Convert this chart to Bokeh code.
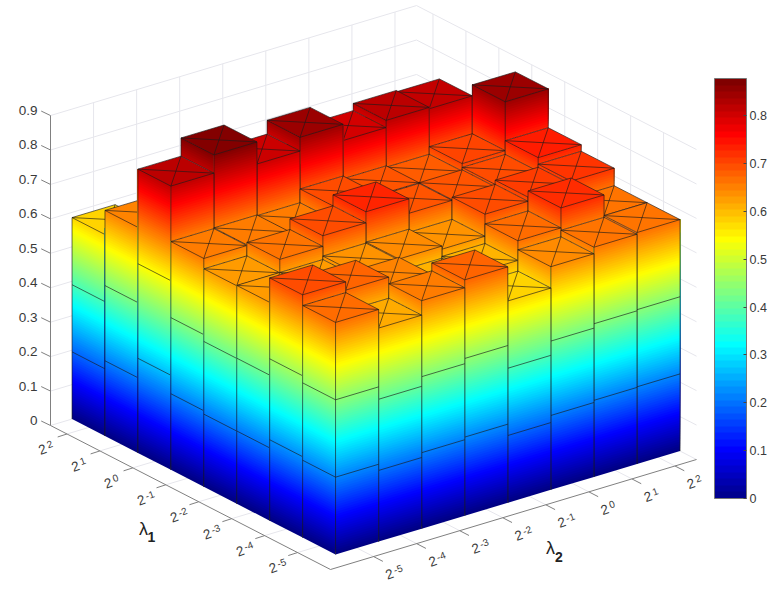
from bokeh.plotting import figure
from bokeh.models import Range1d, ColorBar, LinearColorMapper, FixedTicker
from bokeh.core.properties import value
from bokeh.embed import file_html
from bokeh.resources import INLINE

# ---- data -------------------------------------------------------------
tick_base = ["2"] * 8
lambda1_exponents = ["-5", "-4", "-3", "-2", "-1", "0", "1", "2"]
lambda2_exponents = ["-5", "-4", "-3", "-2", "-1", "0", "1", "2"]
z_ticks = [0, 0.1, 0.2, 0.3, 0.4, 0.5, 0.6, 0.7, 0.8, 0.9]
z_tick_labels = ["0", "0.1", "0.2", "0.3", "0.4", "0.5", "0.6", "0.7", "0.8", "0.9"]
cbar_ticks = [0, 0.1, 0.2, 0.3, 0.4, 0.5, 0.6, 0.7, 0.8]
# one row per lambda1 value, columns are lambda2 values
row_1 = [0.674, 0.620, 0.662, 0.685, 0.586, 0.648, 0.667, 0.672]
row_2 = [0.705, 0.681, 0.652, 0.612, 0.617, 0.674, 0.732, 0.672]
row_3 = [0.634, 0.634, 0.644, 0.647, 0.638, 0.702, 0.714, 0.723]
row_4 = [0.633, 0.672, 0.703, 0.735, 0.693, 0.695, 0.702, 0.742]
row_5 = [0.663, 0.665, 0.663, 0.703, 0.695, 0.691, 0.713, 0.855]
row_6 = [0.824, 0.877, 0.813, 0.853, 0.806, 0.827, 0.823, 0.700]
row_7 = [0.655, 0.610, 0.620, 0.640, 0.630, 0.650, 0.660, 0.680]
row_8 = [0.585, 0.560, 0.580, 0.600, 0.600, 0.610, 0.620, 0.620]
heights = [row_1, row_2, row_3, row_4, row_5, row_6, row_7, row_8]
z_max = 0.878

# ---- projection (3-D view onto the page) -------------------------------
O = (330.0, 569.0)
UX, UY = 43.06, -12.94
VX, VY = -32.94, -16.94
ZY = -344.4
LIM = 8.5
ZTOP = 0.9
W, H = 775, 584


def proj(u, v, z=0.0):
    return O[0] + UX * u + VX * v, O[1] + UY * u + VY * v + ZY * z


def clip(a):
    return max(0.0, min(1.0, a))


def jet(t):
    r = clip(1.5 - abs(4 * t - 3))
    g = clip(1.5 - abs(4 * t - 2))
    b = clip(1.5 - abs(4 * t - 1))
    return "#%02x%02x%02x" % (round(r * 255), round(g * 255), round(b * 255))


N = 64
palette = [jet((k + 1) / N) for k in range(N)]
FINE = 128
fine_palette = [jet((k + 0.5) / FINE) for k in range(FINE)]
FONT = "Liberation Sans"
TXT = "#3a3a3a"

p = figure(width=W, height=H, output_backend="svg", toolbar_location=None,
           x_range=Range1d(0, W), y_range=Range1d(H, 0), min_border=0,
           background_fill_color="white", border_fill_color="white")
p.axis.visible = False
p.grid.visible = False
p.outline_line_color = None

# ---- back walls and floor grid ----------------------------------------
gx, gy = [], []
def seg(a, b):
    gx.append([a[0], b[0]])
    gy.append([a[1], b[1]])

for z in z_ticks:
    seg(proj(0, LIM, z), proj(LIM, LIM, z))
    seg(proj(LIM, 0, z), proj(LIM, LIM, z))
for t in range(1, 9):
    seg(proj(t, LIM, 0), proj(t, LIM, ZTOP))
    seg(proj(LIM, t, 0), proj(LIM, t, ZTOP))
    seg(proj(t, 0, 0), proj(t, LIM, 0))
    seg(proj(0, t, 0), proj(LIM, t, 0))
p.multi_line(gx, gy, line_color="#e6e6ec", line_width=1)

# ---- axis lines, ticks and labels -------------------------------------
ax, ay = [], []
def aseg(a, b):
    ax.append([a[0], b[0]])
    ay.append([a[1], b[1]])

aseg(proj(0, LIM, 0), proj(0, LIM, ZTOP))
aseg(proj(0, LIM, 0), proj(0, 0, 0))
aseg(proj(0, 0, 0), proj(LIM, 0, 0))
ztx, zty, zts = [], [], []
for z, s in zip(z_ticks, z_tick_labels):
    a = proj(0, LIM, z)
    aseg(a, (a[0] - 9.3, a[1] - 4.5))
    ztx.append(a[0] - 13)
    zty.append(a[1] - 5)
    zts.append(s)
l1x, l1y, e1x, e1y = [], [], [], []
l2x, l2y, e2x, e2y = [], [], [], []
for t in range(1, 9):
    a = proj(0, t, 0)
    aseg(a, (a[0] - 9.3, a[1] + 3))
    l1x.append(a[0] - 24.5)
    l1y.append(a[1] + 15.5)
    dx = 8.3 if lambda1_exponents[t - 1].startswith("-") else 7
    e1x.append(a[0] - 24.5 + dx)
    e1y.append(a[1] + 15.5 - 5.8)
    b = proj(t, 0, 0)
    aseg(b, (b[0] + 9.3, b[1] + 4.8))
    l2x.append(b[0] + 16)
    l2y.append(b[1] + 17.8)
    dx = 8.3 if lambda2_exponents[t - 1].startswith("-") else 7
    e2x.append(b[0] + 16 + dx)
    e2y.append(b[1] + 17.8 - 5.8)
p.multi_line(ax, ay, line_color="#808080", line_width=1)

p.text(ztx, zty, text=zts, text_font=value(FONT), text_font_size="13.5px", text_color=TXT,
       text_align="right", text_baseline="middle")
for bx, by, ex_, ey_, exps in ((l1x, l1y, e1x, e1y, lambda1_exponents), (l2x, l2y, e2x, e2y, lambda2_exponents)):
    p.text(bx, by, text=tick_base, text_font=value(FONT), text_font_size="13.5px", text_color=TXT,
           text_align="center", text_baseline="middle", angle=20, angle_units="deg")
    p.text(ex_, ey_, text=exps, text_font=value(FONT), text_font_size="10px", text_color=TXT,
           text_align="center", text_baseline="middle", angle=20, angle_units="deg")

axis_names = ["λ", "λ"]
axis_subs = ["1", "2"]
p.text([143, 550], [528, 547], text=axis_names, text_font=value(FONT), text_font_size="18px",
       text_color="#222222", text_align="center", text_baseline="middle")
p.text([151, 558.5], [536.7, 556], text=axis_subs, text_font=value(FONT), text_font_size="14px",
       text_font_style="bold", text_color="#222222", text_align="center", text_baseline="middle")

# ---- bars, far to near ------------------------------------------------
def height(i, j):
    if i < 1 or j < 1:
        return 0.0
    return heights[j - 1][i - 1]

step = z_max / FINE
order = sorted(((i, j) for i in range(1, 9) for j in range(1, 9)), key=lambda c: -(c[0] + c[1]))
for i, j in order:
    h = height(i, j)
    u0, u1, v0, v1 = i - 0.5, i + 0.5, j - 0.5, j + 0.5
    xs, ys, cs = [], [], []

    def band(a, b, lo):
        # each band reaches up to the bar's top and is overpainted by the next,
        # so that no background shows through between the bands
        k = int(lo / step)
        while k * step < h - 1e-9:
            z0 = max(k * step, lo)
            if h > z0:
                pts = [proj(*a, z0), proj(*b, z0), proj(*b, h), proj(*a, h)]
                xs.append([q[0] for q in pts])
                ys.append([q[1] for q in pts])
                cs.append(fine_palette[min(k, FINE - 1)])
            k += 1

    # the face towards lambda2's low side, the face towards lambda1's low side
    band((u0, v1), (u0, v0), height(i - 1, j))
    band((u0, v0), (u1, v0), height(i, j - 1))
    # the top
    top = [proj(u0, v0, h), proj(u1, v0, h), proj(u1, v1, h), proj(u0, v1, h)]
    xs.append([q[0] for q in top])
    ys.append([q[1] for q in top])
    cs.append(fine_palette[min(int(h / step), FINE - 1)])
    p.patches(xs, ys, fill_color=cs, line_color=None)

    # edges
    ex, ey = [], []
    def edge(a, b):
        ex.append([a[0], b[0]])
        ey.append([a[1], b[1]])
    for (a, b) in [(u0, v1), (u0, v0), (u1, v0)]:
        edge(proj(a, b, 0), proj(a, b, h))
    for f in (1 / 3, 2 / 3):
        edge(proj(u0, v1, h * f), proj(u0, v0, h * f))
        edge(proj(u0, v0, h * f), proj(u1, v0, h * f))
    for k in range(4):
        edge(top[k], top[(k + 1) % 4])
    edge(top[0], top[2])
    edge(top[1], top[3])
    p.multi_line(ex, ey, line_color="#1a1a1a", line_width=0.75, line_alpha=0.85)

# ---- colour bar --------------------------------------------------------
mapper = LinearColorMapper(palette=palette, low=0, high=z_max)
cb = ColorBar(color_mapper=mapper, location=(714, H - 498), width=32, height=420, padding=0,
              ticker=FixedTicker(ticks=cbar_ticks), major_tick_in=3, major_tick_out=0,
              major_tick_line_color="#444444", minor_tick_line_color=None,
              bar_line_color="#777777", label_standoff=3,
              major_label_text_font=FONT, major_label_text_font_size="12.5px",
              major_label_text_color=TXT, background_fill_color=None, border_line_color=None)
p.add_layout(cb, "center")

open("out.html", "w").write(file_html(p, INLINE))
